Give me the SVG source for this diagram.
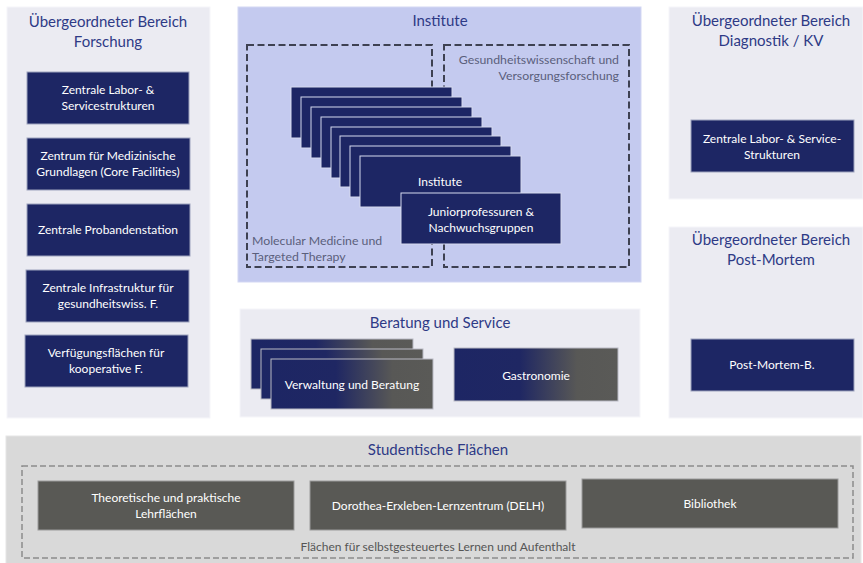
<svg xmlns="http://www.w3.org/2000/svg" width="863" height="563" viewBox="0 0 863 563">
<defs>
<style>
.panel{fill:#ebebf2;stroke:#f6f6fa;stroke-width:1}
.ptitle{font-family:Lato,"Open Sans",sans-serif;font-size:15px;fill:#2e3a86;text-anchor:middle}
.box{fill:#1d2664;stroke:#9ea3bd;stroke-width:1}
.sbox{fill:#1d2664;stroke:#d6d9ee;stroke-width:1}
.btxt{font-family:Lato,"Open Sans",sans-serif;font-size:12px;fill:#ffffff;text-anchor:middle}
.dash{fill:none;stroke:#3e4152;stroke-width:2;stroke-dasharray:7 3.5}
.glabel{font-family:Lato,"Open Sans",sans-serif;font-size:12.3px;fill:#5b5f7c}
.gbox{fill:url(#grad);stroke:#b9bac4;stroke-width:1}
.grey{fill:#595955;stroke:#9b9b9b;stroke-width:1}
.stxt{font-family:Lato,"Open Sans",sans-serif;font-size:12px;fill:#ffffff;text-anchor:middle}
</style>
<linearGradient id="grad" x1="0" y1="0" x2="1" y2="0">
<stop offset="0" stop-color="#1d2664"/>
<stop offset="0.4" stop-color="#1f2763"/>
<stop offset="0.75" stop-color="#585856"/>
<stop offset="1" stop-color="#5a5a57"/>
</linearGradient>
</defs>

<g id="bereich-forschung">
<rect class="panel" x="7" y="7" width="203" height="411"/>
<text class="ptitle" x="108" y="27">Übergeordneter Bereich</text>
<text class="ptitle" x="108" y="47">Forschung</text>
</g>
<g id="n-zentrale-labor">
<rect class="box" x="27" y="72" width="162" height="52"/>
<text class="btxt" x="108" y="94">Zentrale Labor- &amp;</text>
<text class="btxt" x="108" y="110">Servicestrukturen</text>
</g>
<g id="n-zentrum-med">
<rect class="box" x="27" y="138" width="163" height="52"/>
<text class="btxt" x="108" y="160">Zentrum für Medizinische</text>
<text class="btxt" x="108" y="176">Grundlagen (Core Facilities)</text>
</g>
<g id="n-probandenstation">
<rect class="box" x="27" y="204" width="163" height="52"/>
<text class="btxt" x="108" y="234">Zentrale Probandenstation</text>
</g>
<g id="n-infrastruktur">
<rect class="box" x="26" y="270" width="163" height="52"/>
<text class="btxt" x="108" y="292">Zentrale Infrastruktur für</text>
<text class="btxt" x="108" y="308">gesundheitswiss. F.</text>
</g>
<g id="n-verfuegung">
<rect class="box" x="25" y="335" width="163" height="52"/>
<text class="btxt" x="106" y="357">Verfügungsflächen für</text>
<text class="btxt" x="106" y="373">kooperative F.</text>
</g>

<g id="institute-panel">
<rect x="238" y="7" width="403" height="275" fill="#c4caef" stroke="#d3d7f3" stroke-width="1"/>
<text class="ptitle" x="440" y="26">Institute</text>
</g>
<g id="mmtt-area">
<rect class="dash" x="247" y="45" width="185" height="222"/>
<text class="glabel" x="252" y="245">Molecular Medicine und</text>
<text class="glabel" x="252" y="261">Targeted Therapy</text>
</g>
<g id="gv-area">
<rect class="dash" x="444" y="45" width="185" height="222"/>
<text class="glabel" x="619" y="64" text-anchor="end">Gesundheitswissenschaft und</text>
<text class="glabel" x="619" y="80" text-anchor="end">Versorgungsforschung</text>
</g>
<g id="n-institute-stack">
<rect class="sbox" x="291" y="87" width="161" height="51"/>
<rect class="sbox" x="301" y="97" width="161" height="51"/>
<rect class="sbox" x="311" y="107" width="161" height="51"/>
<rect class="sbox" x="321" y="117" width="161" height="51"/>
<rect class="sbox" x="331" y="127" width="161" height="51"/>
<rect class="sbox" x="340" y="136" width="161" height="51"/>
<rect class="sbox" x="350" y="146" width="161" height="51"/>
<rect class="sbox" x="360" y="156" width="161" height="51"/>
<text class="btxt" x="440" y="186">Institute</text>
</g>
<g id="n-junior">
<rect class="sbox" x="401" y="193" width="160" height="51"/>
<text class="btxt" x="481" y="216">Juniorprofessuren &amp;</text>
<text class="btxt" x="481" y="232">Nachwuchsgruppen</text>
</g>

<g id="beratung-panel">
<rect class="panel" x="240" y="309" width="400" height="108"/>
<text class="ptitle" x="440" y="328">Beratung und Service</text>
</g>
<g id="n-verwaltung">
<rect class="gbox" x="251" y="339" width="162" height="50"/>
<rect class="gbox" x="261" y="349" width="162" height="50"/>
<rect class="gbox" x="271" y="359" width="162" height="50"/>
<text class="btxt" x="352" y="389">Verwaltung und Beratung</text>
</g>
<g id="n-gastronomie">
<rect class="gbox" x="454" y="348" width="164" height="53"/>
<text class="btxt" x="536" y="380">Gastronomie</text>
</g>

<g id="bereich-diagnostik">
<rect class="panel" x="669" y="7" width="194" height="192"/>
<text class="ptitle" x="771" y="26">Übergeordneter Bereich</text>
<text class="ptitle" x="771" y="46">Diagnostik / KV</text>
</g>
<g id="n-diag-labor">
<rect class="box" x="691" y="120" width="163" height="52"/>
<text class="btxt" x="772" y="143">Zentrale Labor- &amp; Service-</text>
<text class="btxt" x="772" y="159">Strukturen</text>
</g>
<g id="bereich-postmortem">
<rect class="panel" x="669" y="227" width="194" height="191"/>
<text class="ptitle" x="771" y="245">Übergeordneter Bereich</text>
<text class="ptitle" x="771" y="265">Post-Mortem</text>
</g>
<g id="n-postmortem">
<rect class="box" x="691" y="339" width="163" height="52"/>
<text class="btxt" x="772" y="369">Post-Mortem-B.</text>
</g>

<g id="studentische-flaechen">
<rect x="6" y="436" width="855" height="130" fill="#d9d9d9" stroke="#e6e6e6" stroke-width="1"/>
<text class="ptitle" x="438" y="455" font-size="14">Studentische Flächen</text>
<rect x="22" y="466" width="831" height="92" fill="none" stroke="#8c8c8c" stroke-width="1.5" stroke-dasharray="6 3"/>
<text x="438" y="551" font-family="Lato,'Open Sans',sans-serif" font-size="12" fill="#555555" text-anchor="middle">Flächen für selbstgesteuertes Lernen und Aufenthalt</text>
</g>
<g id="n-lehrflaechen">
<rect class="grey" x="38" y="481" width="256" height="49"/>
<text class="stxt" x="166" y="502">Theoretische und praktische</text>
<text class="stxt" x="166" y="518">Lehrflächen</text>
</g>
<g id="n-delh">
<rect class="grey" x="310" y="481" width="256" height="49"/>
<text class="stxt" x="438" y="510">Dorothea-Erxleben-Lernzentrum (DELH)</text>
</g>
<g id="n-bibliothek">
<rect class="grey" x="582" y="479" width="256" height="49"/>
<text class="stxt" x="710" y="508">Bibliothek</text>
</g>
<g id="connectors"></g>
</svg>
